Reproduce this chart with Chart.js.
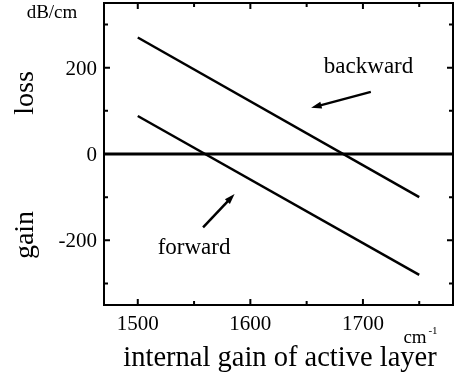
<!DOCTYPE html>
<html>
<head>
<meta charset="utf-8">
<script src="https://cdn.jsdelivr.net/npm/chart.js@4.4.0/dist/chart.umd.min.js"></script>
<style>
  body { margin: 0; background: #fff; }
</style>
</head>
<body>
<canvas id="lossChart" width="455" height="379"></canvas>
<script>
// axis ranges and ticks
const xRange = [1470, 1780]
const yRange = [-350, 350]
const xTickLabels = [1500, 1600, 1700]
const xMinorTicks = [1550, 1650, 1750]
const yTickLabels = [-200, 0, 200]
const yMinorTicks = [-300, -100, 100, 300]

// series (dB/cm vs internal gain, cm-1)
const internalGain = [1500, 1750]
const backwardLoss = [270, -100]
const forwardLoss = [88, -280]
const zeroGain = [1470, 1780]
const zeroLoss = [0, 0]

const serif = "'Liberation Serif', 'Times New Roman', serif"

const toPoints = (xs, ys) => xs.map((x, i) => ({ x: x, y: ys[i] }))

function drawText(ctx, text, x, y, size, align) {
  ctx.save()
  ctx.font = size + 'px ' + serif
  ctx.textAlign = align || 'center'
  ctx.textBaseline = 'alphabetic'
  ctx.fillText(text, x, y)
  ctx.restore()
}

function drawArrow(ctx, x1, y1, x2, y2) {
  const ang = Math.atan2(y2 - y1, x2 - x1)
  const head = 11
  ctx.beginPath()
  ctx.moveTo(x1, y1)
  ctx.lineTo(x2 - Math.cos(ang) * head * 0.6, y2 - Math.sin(ang) * head * 0.6)
  ctx.stroke()
  ctx.beginPath()
  ctx.moveTo(x2, y2)
  ctx.lineTo(x2 - head * Math.cos(ang - 0.32), y2 - head * Math.sin(ang - 0.32))
  ctx.lineTo(x2 - head * Math.cos(ang + 0.32), y2 - head * Math.sin(ang + 0.32))
  ctx.closePath()
  ctx.fill()
}

// frame, inward ticks, labels and annotations
const framePlugin = {
  id: 'frame',
  afterDraw(chart) {
    const { ctx, chartArea: a, scales } = chart
    const x = scales.x
    const y = scales.y
    ctx.save()
    ctx.strokeStyle = '#000'
    ctx.fillStyle = '#000'
    ctx.lineWidth = 2
    ctx.strokeRect(a.left, a.top, a.right - a.left, a.bottom - a.top)

    const xTick = (v, len) => {
      const px = x.getPixelForValue(v)
      ctx.beginPath()
      ctx.moveTo(px, a.bottom); ctx.lineTo(px, a.bottom - len)
      ctx.moveTo(px, a.top); ctx.lineTo(px, a.top + len)
      ctx.stroke()
    }
    const yTick = (v, len) => {
      const py = y.getPixelForValue(v)
      ctx.beginPath()
      ctx.moveTo(a.left, py); ctx.lineTo(a.left + len, py)
      ctx.moveTo(a.right, py); ctx.lineTo(a.right - len, py)
      ctx.stroke()
    }
    xTickLabels.forEach(v => xTick(v, 6))
    xMinorTicks.forEach(v => xTick(v, 4))
    yTickLabels.forEach(v => yTick(v, 6))
    yMinorTicks.forEach(v => yTick(v, 4))

    // tick labels through the scales
    x.ticks.forEach(t => {
      drawText(ctx, String(t.value), x.getPixelForValue(t.value), 330, 21, 'center')
    })
    y.ticks.forEach(t => {
      drawText(ctx, String(t.value), 97, y.getPixelForValue(t.value) + 7, 21, 'right')
    })

    // axis titles
    drawText(ctx, 'internal gain of active layer', 280, 366, 28.5, 'center')
    drawText(ctx, 'cm', 415, 343, 19, 'center')
    drawText(ctx, '-1', 433, 334, 11, 'center')
    drawText(ctx, 'dB/cm', 52, 18, 19, 'center')

    ctx.save()
    ctx.translate(33, 93)
    ctx.rotate(-Math.PI / 2)
    drawText(ctx, 'loss', 0, 0, 28, 'center')
    ctx.restore()
    ctx.save()
    ctx.translate(33, 235)
    ctx.rotate(-Math.PI / 2)
    drawText(ctx, 'gain', 0, 0, 28, 'center')
    ctx.restore()

    // annotations in data space
    const px = v => x.getPixelForValue(v)
    const py = v => y.getPixelForValue(v)
    drawText(ctx, 'backward', px(1705), py(188), 23, 'center')
    drawText(ctx, 'forward', px(1550), py(-232), 23, 'center')
    ctx.lineWidth = 2.5
    drawArrow(ctx, px(1707), py(144), px(1654), py(107))
    drawArrow(ctx, px(1558), py(-170), px(1586), py(-93))
    ctx.restore()
  }
}

const lineStyle = {
  borderColor: '#000',
  borderWidth: 2.5,
  pointRadius: 0,
  fill: false,
  tension: 0,
}

new Chart(document.getElementById('lossChart').getContext('2d'), {
  type: 'line',
  data: {
    datasets: [
      { label: 'backward', data: toPoints(internalGain, backwardLoss), ...lineStyle },
      { label: 'forward', data: toPoints(internalGain, forwardLoss), ...lineStyle },
      { label: 'zero', data: toPoints(zeroGain, zeroLoss), ...lineStyle, borderWidth: 3 },
    ],
  },
  options: {
    responsive: false,
    animation: false,
    devicePixelRatio: 1,
    layout: { padding: { top: 3, right: 2, left: 0, bottom: 0 } },
    plugins: { legend: { display: false }, tooltip: { enabled: false } },
    scales: {
      x: {
        type: 'linear',
        min: xRange[0],
        max: xRange[1],
        grid: { display: false, drawTicks: false },
        border: { display: false },
        ticks: { display: false },
        afterBuildTicks: s => { s.ticks = xTickLabels.map(v => ({ value: v })) },
        afterFit: s => { s.height = 74 },
      },
      y: {
        type: 'linear',
        min: yRange[0],
        max: yRange[1],
        grid: { display: false, drawTicks: false },
        border: { display: false },
        ticks: { display: false },
        afterBuildTicks: s => { s.ticks = yTickLabels.map(v => ({ value: v })) },
        afterFit: s => { s.width = 104 },
      },
    },
  },
  plugins: [framePlugin],
})
</script>
</body>
</html>
